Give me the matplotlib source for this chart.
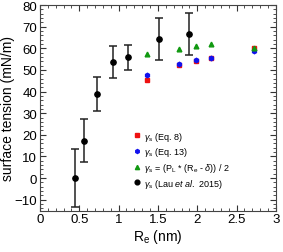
import matplotlib.pyplot as plt
from matplotlib.ticker import MultipleLocator

plt.rcParams['font.family'] = ['Liberation Sans', 'DejaVu Sans']
plt.rcParams['mathtext.fontset'] = 'custom'
plt.rcParams['mathtext.rm'] = 'Liberation Sans'
plt.rcParams['mathtext.it'] = 'Liberation Sans:italic'
plt.rcParams['mathtext.sf'] = 'Liberation Sans'

# Lau et al. 2015 data with error bars
lau_x = [0.445, 0.564, 0.729, 0.932, 1.12, 1.508, 1.90]
lau_y = [0.2, 17.3, 39.1, 53.6, 56.0, 64.1, 66.6]
lau_hi = [13.6, 27.1, 46.9, 61.2, 61.7, 73.8, 76.3]
lau_lo = [-13.2, 7.6, 31.2, 46.1, 50.1, 54.5, 56.7]

# model points
re_x = [1.364, 1.767, 1.983, 2.178, 2.72]
eq8 = [45.5, 52.3, 54.3, 55.3, 60.0]
eq13 = [47.8, 52.8, 54.4, 55.6, 58.7]
pl = [57.3, 59.5, 61.3, 62.0, 60.3]

lau_err = [[y - l for y, l in zip(lau_y, lau_lo)], [h - y for y, h in zip(lau_y, lau_hi)]]

fig = plt.figure(figsize=(2.83, 2.53), dpi=100)
ax = fig.add_axes([0.141, 0.164, 0.834, 0.812])

ax.plot(re_x, eq8, 's', color='#ee1111', ms=3, label=r'$\gamma_\mathrm{s}$ (Eq. 8)')
ax.plot(re_x, eq13, 'h', color='#1111ee', ms=3.2, label=r'$\gamma_\mathrm{s}$ (Eq. 13)')
ax.plot(re_x, pl, '^', color='#119911', ms=3.4,
        label=r'$\gamma_\mathrm{s}$ = (P$_\mathrm{L}$ * (R$_\mathrm{e}$ - $\delta$)) / 2')
ax.errorbar(lau_x, lau_y, yerr=lau_err, fmt='none', ecolor='#222222',
            elinewidth=1.1, capsize=3, capthick=1.1)
ax.plot(lau_x, lau_y, 'o', color='black', ms=3.8,
        label=r'$\gamma_\mathrm{s}$ (Lau $\it{et\ al.}$ 2015)')

ax.set_xlim(0, 3)
ax.set_ylim(-15, 80)
ax.xaxis.set_major_locator(MultipleLocator(0.5))
ax.xaxis.set_minor_locator(MultipleLocator(0.1))
ax.yaxis.set_major_locator(MultipleLocator(10))
ax.yaxis.set_minor_locator(MultipleLocator(2))
ax.set_xticks([0, 0.5, 1, 1.5, 2, 2.5, 3])
ax.set_xticklabels(['0', '0.5', '1', '1.5', '2', '2.5', '3'])
ax.tick_params(which='both', direction='in', top=True, right=True, labelsize=9.5, color='#333333')
ax.tick_params(which='major', length=4, pad=2)
ax.tick_params(which='minor', length=2)
for s in ax.spines.values():
    s.set_color('#444444')

ax.set_xlabel(r'R$_\mathrm{e}$ (nm)', fontsize=10, labelpad=1)
ax.set_ylabel('surface tension (mN/m)', fontsize=10, labelpad=0)

ax.legend(loc='upper left', bbox_to_anchor=(0.36, 0.425), frameon=False, fontsize=6.5,
          handletextpad=0.2, labelspacing=0.3, handlelength=1.2, borderpad=0.2,
          markerscale=0.9)

plt.savefig('out.png', dpi=100)
